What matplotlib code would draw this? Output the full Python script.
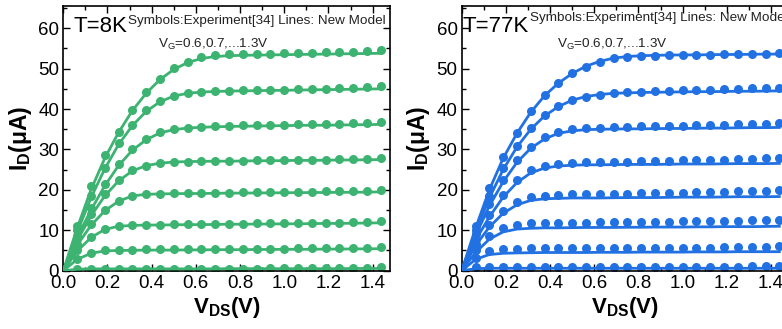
import numpy as np
import matplotlib
matplotlib.use("Agg")
import matplotlib.pyplot as plt
from matplotlib.ticker import MultipleLocator

plt.rcParams['font.family'] = ['Liberation Sans', 'DejaVu Sans']
plt.rcParams['mathtext.fontset'] = 'custom'
plt.rcParams['mathtext.rm'] = 'Liberation Sans'
plt.rcParams['mathtext.it'] = 'Liberation Sans:italic'
plt.rcParams['mathtext.bf'] = 'Liberation Sans:bold'

# drain voltage grid (V)
vds = [0.0, 0.0625, 0.125, 0.1875, 0.25, 0.3125, 0.375, 0.4375, 0.5, 0.5625,
       0.625, 0.6875, 0.75, 0.8125, 0.875, 0.9375, 1.0, 1.0625, 1.125, 1.1875,
       1.25, 1.3125, 1.375, 1.4375]
vg_labels = [0.6, 0.7, 0.8, 0.9, 1.0, 1.1, 1.2, 1.3]

# ---------------- T = 8K ----------------
exp_8k_06 = [0, 0.4, 0.5, 0.5, 0.5, 0.5, 0.5, 0.5, 0.5, 0.5, 0.5, 0.5, 0.5, 0.5, 0.5, 0.6, 0.6, 0.6, 0.6, 0.6, 0.6, 0.6, 0.7, 0.8]
exp_8k_07 = [0, 3.0, 4.5, 5.0, 5.2, 5.2, 5.3, 5.3, 5.3, 5.3, 5.3, 5.3, 5.4, 5.4, 5.4, 5.4, 5.4, 5.5, 5.5, 5.5, 5.6, 5.6, 5.7, 5.8]
exp_8k_08 = [0, 5.0, 8.3, 10.2, 11.0, 11.3, 11.4, 11.4, 11.5, 11.5, 11.5, 11.6, 11.6, 11.6, 11.7, 11.7, 11.7, 11.8, 11.8, 11.9, 11.9, 12.0, 12.1, 12.3]
exp_8k_09 = [0, 6.5, 11.5, 15.0, 17.3, 18.5, 19.0, 19.1, 19.2, 19.2, 19.3, 19.3, 19.3, 19.4, 19.4, 19.4, 19.5, 19.5, 19.5, 19.6, 19.6, 19.7, 19.8, 19.9]
exp_8k_10 = [0, 8.0, 14.0, 19.0, 22.5, 24.8, 26.0, 26.6, 26.9, 27.0, 27.1, 27.1, 27.2, 27.2, 27.3, 27.3, 27.4, 27.4, 27.5, 27.5, 27.6, 27.6, 27.7, 27.8]
exp_8k_11 = [0, 8.5, 15.5, 21.5, 26.5, 30.0, 32.5, 34.2, 35.0, 35.4, 35.6, 35.8, 35.9, 36.0, 36.0, 36.1, 36.1, 36.2, 36.3, 36.3, 36.4, 36.5, 36.6, 36.8]
exp_8k_12 = [0, 10.0, 18.5, 25.5, 31.5, 36.0, 39.7, 41.9, 43.2, 43.9, 44.2, 44.4, 44.5, 44.6, 44.7, 44.7, 44.8, 44.9, 45.0, 45.0, 45.1, 45.3, 45.4, 45.6]
exp_8k_13 = [0, 11.0, 21.0, 28.6, 34.4, 39.8, 44.3, 47.4, 50.1, 51.6, 52.8, 53.4, 53.5, 53.6, 53.7, 53.7, 53.8, 53.9, 53.9, 54.0, 54.1, 54.2, 54.3, 54.5]

mod_8k_06 = [0, 0.35, 0.45, 0.45, 0.45, 0.45, 0.45, 0.45, 0.45, 0.45, 0.45, 0.45, 0.5, 0.5, 0.5, 0.5, 0.5, 0.5, 0.5, 0.5, 0.5, 0.55, 0.55, 0.55]
mod_8k_07 = [0, 2.8, 4.3, 4.9, 5.0, 5.05, 5.1, 5.1, 5.1, 5.15, 5.15, 5.2, 5.2, 5.2, 5.25, 5.25, 5.3, 5.3, 5.3, 5.35, 5.35, 5.4, 5.4, 5.45]
mod_8k_08 = [0, 4.8, 8.2, 10.2, 11.0, 11.2, 11.3, 11.3, 11.35, 11.4, 11.4, 11.45, 11.5, 11.5, 11.55, 11.55, 11.6, 11.6, 11.65, 11.7, 11.7, 11.75, 11.8, 11.85]
mod_8k_09 = [0, 6.3, 11.2, 14.8, 17.2, 18.5, 18.9, 19.0, 19.05, 19.1, 19.1, 19.15, 19.2, 19.2, 19.25, 19.25, 19.3, 19.3, 19.35, 19.35, 19.4, 19.4, 19.45, 19.5]
mod_8k_10 = [0, 7.5, 13.5, 18.5, 22.2, 24.7, 26.0, 26.6, 26.9, 27.0, 27.05, 27.1, 27.1, 27.15, 27.2, 27.2, 27.25, 27.3, 27.3, 27.35, 27.4, 27.4, 27.45, 27.5]
mod_8k_11 = [0, 8.2, 15.0, 21.0, 26.0, 29.8, 32.4, 34.1, 34.9, 35.3, 35.5, 35.6, 35.7, 35.75, 35.8, 35.85, 35.9, 35.95, 36.0, 36.0, 36.05, 36.1, 36.15, 36.2]
mod_8k_12 = [0, 9.5, 18.0, 25.2, 31.2, 35.9, 39.4, 41.8, 43.2, 43.9, 44.2, 44.35, 44.45, 44.5, 44.55, 44.6, 44.65, 44.7, 44.75, 44.8, 44.85, 44.9, 44.95, 45.0]
mod_8k_13 = [0, 10.5, 20.0, 27.8, 34.2, 39.6, 43.9, 47.3, 49.8, 51.5, 52.5, 53.0, 53.2, 53.3, 53.35, 53.4, 53.45, 53.5, 53.55, 53.6, 53.65, 53.7, 53.75, 53.8]

# ---------------- T = 77K ----------------
exp_77k_06 = [0, 0.8, 1.0, 1.0, 1.0, 1.0, 1.0, 1.0, 1.0, 1.0, 1.0, 1.0, 1.0, 1.0, 1.0, 1.0, 1.0, 1.0, 1.0, 1.0, 1.0, 1.1, 1.1, 1.2]
exp_77k_07 = [0, 3.2, 4.9, 5.3, 5.4, 5.5, 5.5, 5.5, 5.5, 5.5, 5.6, 5.6, 5.6, 5.6, 5.6, 5.7, 5.7, 5.7, 5.7, 5.8, 5.8, 5.8, 5.9, 6.0]
exp_77k_08 = [0, 5.0, 8.5, 10.5, 11.4, 11.7, 11.8, 11.8, 11.9, 11.9, 12.0, 12.0, 12.0, 12.1, 12.1, 12.1, 12.2, 12.2, 12.3, 12.3, 12.4, 12.5, 12.5, 12.6]
exp_77k_09 = [0, 6.5, 11.3, 14.8, 17.0, 18.2, 18.6, 18.8, 18.9, 19.0, 19.0, 19.1, 19.1, 19.2, 19.2, 19.3, 19.3, 19.4, 19.5, 19.5, 19.6, 19.7, 19.8, 20.0]
exp_77k_10 = [0, 7.8, 13.8, 18.8, 22.5, 24.8, 26.0, 26.5, 26.7, 26.8, 26.9, 27.0, 27.0, 27.1, 27.1, 27.2, 27.3, 27.3, 27.4, 27.5, 27.6, 27.7, 27.8, 28.0]
exp_77k_11 = [0, 9.0, 16.5, 22.5, 27.3, 30.7, 33.0, 34.3, 35.0, 35.3, 35.4, 35.5, 35.6, 35.7, 35.7, 35.8, 35.9, 36.0, 36.0, 36.1, 36.2, 36.3, 36.4, 36.5]
exp_77k_12 = [0, 10.0, 18.5, 25.3, 30.8, 35.3, 38.5, 40.8, 42.3, 43.1, 43.6, 43.9, 44.1, 44.3, 44.4, 44.5, 44.6, 44.7, 44.8, 44.9, 45.0, 45.1, 45.2, 45.3]
exp_77k_13 = [0, 11.0, 20.5, 28.2, 34.0, 39.4, 43.5, 46.4, 48.9, 50.5, 51.7, 52.6, 53.0, 53.1, 53.2, 53.3, 53.3, 53.4, 53.4, 53.5, 53.5, 53.6, 53.7, 53.8]

mod_77k_06 = [0, 0.5, 0.6, 0.6, 0.6, 0.6, 0.6, 0.6, 0.6, 0.6, 0.6, 0.6, 0.6, 0.6, 0.6, 0.6, 0.6, 0.6, 0.6, 0.6, 0.6, 0.6, 0.6, 0.6]
mod_77k_07 = [0, 2.8, 4.0, 4.3, 4.4, 4.45, 4.5, 4.5, 4.5, 4.5, 4.55, 4.55, 4.55, 4.6, 4.6, 4.6, 4.6, 4.65, 4.65, 4.65, 4.7, 4.7, 4.7, 4.7]
mod_77k_08 = [0, 4.5, 7.8, 9.6, 10.3, 10.5, 10.6, 10.6, 10.65, 10.7, 10.7, 10.7, 10.75, 10.75, 10.8, 10.8, 10.8, 10.85, 10.85, 10.9, 10.9, 10.9, 10.95, 11.0]
mod_77k_09 = [0, 6.2, 10.8, 14.2, 16.3, 17.4, 17.8, 17.9, 18.0, 18.0, 18.0, 18.05, 18.1, 18.1, 18.1, 18.15, 18.2, 18.2, 18.2, 18.25, 18.3, 18.3, 18.3, 18.35]
mod_77k_10 = [0, 7.5, 13.3, 18.2, 21.8, 24.2, 25.4, 25.9, 26.1, 26.2, 26.2, 26.25, 26.3, 26.3, 26.3, 26.35, 26.4, 26.4, 26.4, 26.45, 26.5, 26.5, 26.5, 26.55]
mod_77k_11 = [0, 8.7, 16.0, 22.0, 26.8, 30.3, 32.6, 34.0, 34.6, 34.9, 35.0, 35.05, 35.1, 35.1, 35.15, 35.2, 35.2, 35.25, 35.3, 35.3, 35.35, 35.4, 35.4, 35.45]
mod_77k_12 = [0, 9.5, 18.0, 25.0, 30.6, 35.0, 38.3, 40.6, 42.2, 43.1, 43.6, 43.9, 44.0, 44.1, 44.15, 44.2, 44.25, 44.3, 44.3, 44.35, 44.4, 44.4, 44.45, 44.5]
mod_77k_13 = [0, 10.5, 20.0, 27.8, 34.0, 39.2, 43.3, 46.4, 48.8, 50.6, 51.8, 52.6, 53.0, 53.2, 53.3, 53.35, 53.4, 53.4, 53.45, 53.5, 53.5, 53.55, 53.6, 53.6]

exp_8k = [exp_8k_06, exp_8k_07, exp_8k_08, exp_8k_09, exp_8k_10, exp_8k_11, exp_8k_12, exp_8k_13]
mod_8k = [mod_8k_06, mod_8k_07, mod_8k_08, mod_8k_09, mod_8k_10, mod_8k_11, mod_8k_12, mod_8k_13]
exp_77k = [exp_77k_06, exp_77k_07, exp_77k_08, exp_77k_09, exp_77k_10, exp_77k_11, exp_77k_12, exp_77k_13]
mod_77k = [mod_77k_06, mod_77k_07, mod_77k_08, mod_77k_09, mod_77k_10, mod_77k_11, mod_77k_12, mod_77k_13]

green = '#3cb371'
blue = '#2271e3'

W, H = 782, 329
fig = plt.figure(figsize=(W / 100, H / 100), dpi=100)

def make_axes(left_px):
    ax = fig.add_axes([left_px / W, (H - 270.7) / H, 327 / W, 264.7 / H])
    return ax

def style(ax):
    ax.set_xlim(0, 1.48)
    ax.set_ylim(0, 65.5)
    ax.xaxis.set_major_locator(MultipleLocator(0.2))
    ax.xaxis.set_minor_locator(MultipleLocator(0.1))
    ax.yaxis.set_major_locator(MultipleLocator(10))
    ax.yaxis.set_minor_locator(MultipleLocator(5))
    ax.xaxis.set_major_formatter(matplotlib.ticker.FormatStrFormatter('%.1f'))
    ax.tick_params(which='both', direction='in', top=True, right=True, width=1.0,
                   labelsize=13.5, pad=3)
    ax.tick_params(which='major', length=5)
    ax.tick_params(which='minor', length=3)
    for s in ax.spines.values():
        s.set_linewidth(1.2)
    ax.set_xlabel(r'V$_\mathbf{DS}$(V)', fontsize=16, fontweight='bold', labelpad=2)
    ax.set_ylabel(r'I$_\mathbf{D}$(μA)', fontsize=16.5, fontweight='bold', labelpad=3)

panels = [
    (63.3, exp_8k, mod_8k, green, 'T=8K', 0.03, 0.962, 0.198, 0.965),
    (461.7, exp_77k, mod_77k, blue, 'T=77K', 0.003, 0.962, 0.209, 0.977),
]

for left_px, exps, mods, col, title, tx, ty, sx, sy in panels:
    ax = make_axes(left_px)
    for e, m in zip(exps, mods):
        ax.plot(vds, e, 'o', color=col, markersize=6.5, markeredgewidth=0, zorder=2)
        ax.plot(vds, m, '-', color=col, linewidth=2.0, zorder=3)
    style(ax)
    ax.text(tx, ty, title, transform=ax.transAxes, fontsize=16, va='top', ha='left')
    ax.text(sx, sy, 'Symbols:Experiment[34] Lines: New Model', transform=ax.transAxes,
            fontsize=9.7, va='top', ha='left', color='#222222')
    ax.text(0.29, 0.885, r'V$_\mathrm{G}$=0.6,0.7,...1.3V', transform=ax.transAxes,
            fontsize=9.7, va='top', ha='left', color='#222222')

fig.savefig('out.png', dpi=100)
